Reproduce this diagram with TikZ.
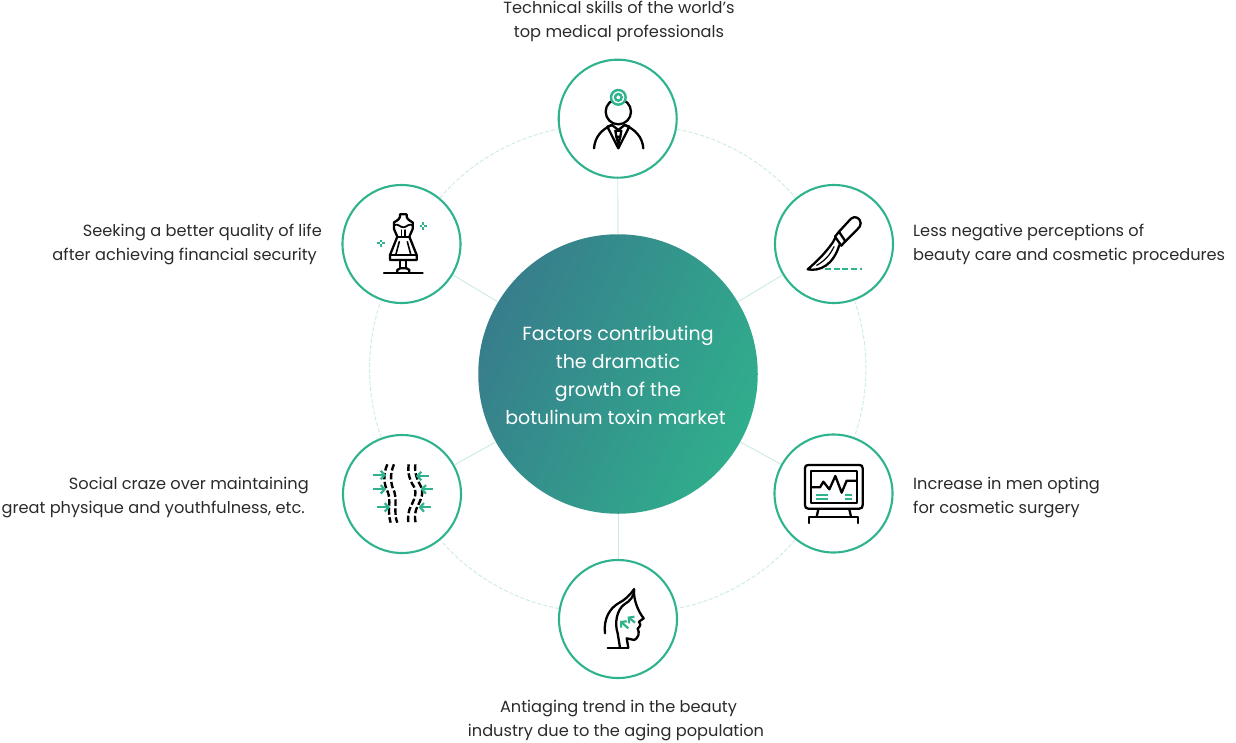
\documentclass[tikz,border=0pt]{standalone}
\usepackage{fontspec}
\setmainfont{Poppins}
\usetikzlibrary{arrows.meta}
\definecolor{grn}{HTML}{2FB38E}
\definecolor{lite}{HTML}{CBEBE1}
\definecolor{txt}{HTML}{2A2A2A}
\definecolor{hubA}{HTML}{377D8C}
\definecolor{hubB}{HTML}{30AE8C}
\tikzset{
  hubnode/.style={circle,minimum size=279.5pt,inner sep=0pt,shade,top color=hubA,bottom color=hubB,shading angle=65,text=white,align=center,font=\fontsize{19}{28}\selectfont},
  factor/.style={circle,minimum size=118pt,inner sep=0pt,draw=grn,line width=2.1pt,fill=white},
  spoke/.style={draw=lite,line width=0.9pt},
  arcline/.style={draw=lite,line width=0.9pt,dash pattern=on 4pt off 2pt,looseness=0.85},
  caption/.style={inner sep=0pt,text=txt,font=\fontsize{16.2}{24}\selectfont},
  ink/.style={line width=2.3pt,black,line join=round,line cap=round},
  mint/.style={line width=2.2pt,grn,line join=round},
  mintarrow/.style={line width=2.2pt,grn,-{Straight Barb[length=3.8pt,width=8.5pt]}},
  bodyline/.style={line width=2.4pt,black,dash pattern=on 6.5pt off 2.5pt},
}
\newcommand{\sparkleat}[2]{%
  \draw[grn,line width=1.9pt] (#1-11,#2)--(#1-3,#2) (#1+3,#2)--(#1+11,#2) (#1,#2-11)--(#1,#2-3) (#1,#2+3)--(#1,#2+11);}
\begin{document}
\begin{tikzpicture}[x=1pt,y=-1pt]
\useasboundingbox (0,0) rectangle (1236,742);
\node[hubnode] (hub) at (618,374) {\rule{0pt}{17pt}Factors contributing\\the dramatic\\growth of the\\botulinum toxin market\hspace*{5pt}};
\node[factor] (n1) at (617.7,118.7) {};
\node[factor] (n2) at (834,244) {};
\node[factor] (n3) at (833.5,493.5) {};
\node[factor] (n4) at (618,619) {};
\node[factor] (n5) at (402,494) {};
\node[factor] (n6) at (401.5,244) {};
\foreach \n in {1,...,6} \draw[spoke] (hub) -- (n\n);
\draw[arcline] (n1) to[bend left=20] (n2);
\draw[arcline] (n2) to[bend left=20] (n3);
\draw[arcline] (n3) to[bend left=20] (n4);
\draw[arcline] (n4) to[bend left=20] (n5);
\draw[arcline] (n5) to[bend left=20] (n6);
\draw[arcline] (n6) to[bend left=20] (n1);
% captions
\node[caption,align=center] (c1) at (619,21) {Technical skills of the world’s\\top medical professionals};
\node[caption,align=left,anchor=west] (c2) at (913,244) {Less negative perceptions of\\beauty care and cosmetic procedures};
\node[caption,align=left,anchor=west] (c3) at (913,497.5) {Increase in men opting\\for cosmetic surgery};
\node[caption,align=center] (c4) at (616,721) {\hspace*{5pt}Antiaging trend in the beauty\\industry due to the aging population};
\node[caption,align=right,anchor=east] (c5) at (309,497.5) {Social craze over maintaining\\great physique and youthfulness, etc.\hspace*{4pt}};
\node[caption,align=right,anchor=east] (c6) at (322,244) {Seeking a better quality of life\\after achieving financial security\hspace*{5pt}};
% doctor
\begin{scope}[shift={(550,80)},x=0.3333pt,y=-0.3333pt]
\draw[ink] (205,95) circle (38);
\draw[grn,line width=2.4pt,fill=white] (205,52) circle (22);
\draw[grn,line width=2.4pt] (205,52) circle (10);
\draw[ink] (132,205) .. controls (135,170) and (155,148) .. (186,135) (224,135) .. controls (255,148) and (277,170) .. (280,205);
\draw[ink] (172,140) -- (186,135) -- (205,150) -- (224,135) -- (238,140);
\draw[ink] (172,140) -- (205,205) -- (238,140);
\draw[ink] (196,152) -- (214,152) -- (211,170) -- (199,170) -- cycle;
\draw[ink] (199,170) -- (205,192) -- (211,170);
\end{scope}
% scalpel
\begin{scope}[shift={(770,190)},x=0.3333pt,y=-0.3333pt]
\draw[ink] (207,125) -- (243,86) .. controls (255,75) and (272,85) .. (272,100) .. controls (272,108) and (268,112) .. (262,118) -- (226,154);
\draw[ink] (207,125) -- (195,140) -- (214,167) -- (226,154) -- cycle;
\draw[ink] (195,145) -- (188,158) .. controls (165,190) and (140,215) .. (113,238) .. controls (150,245) and (190,225) .. (208,165);
\draw[ink,line width=1.2pt] (140,226) .. controls (165,212) and (180,195) .. (192,170);
\draw[mint,dash pattern=on 6pt off 2.7pt] (165,237) -- (277,237);
\end{scope}
% monitor
\begin{scope}[shift={(770,430)},x=0.3333pt,y=-0.3333pt]
\draw[ink] (105,115) .. controls (105,108) and (108,105) .. (115,105) -- (268,105) .. controls (275,105) and (278,108) .. (278,115) -- (278,225) .. controls (278,232) and (275,236) .. (268,236) -- (115,236) .. controls (108,236) and (105,232) .. (105,225) -- cycle;
\draw[ink] (123,123) rectangle (260,218);
\draw[ink] (123,172) -- (150,172) -- (160,155) -- (178,178) -- (196,138) -- (215,188) -- (230,152) -- (260,152);
\draw[mint] (138,195) -- (175,195) (138,207) -- (175,207) (225,195) -- (245,195) (225,207) -- (245,207);
\draw[ink] (145,238) -- (140,260) (238,238) -- (243,260);
\draw[ink] (118,279) -- (118,260) -- (265,260) -- (265,279);
\end{scope}
% face
\begin{scope}[shift={(555,555)},x=0.3333pt,y=-0.3333pt]
\draw[ink] (150,235) .. controls (145,190) and (165,160) .. (190,145) .. controls (210,135) and (225,120) .. (237,103);
\draw[ink] (237,103) .. controls (238,125) and (225,138) .. (208,148) .. controls (185,165) and (178,205) .. (188,235) -- (195,278);
\draw[ink] (237,103) .. controls (235,135) and (250,170) .. (266,190) -- (252,200) .. controls (258,205) and (258,212) .. (248,221) .. controls (255,232) and (250,250) .. (238,255) -- (215,250) -- (220,278);
\draw[ink] (158,278) -- (220,278);
\draw[mintarrow] (240,203) -- (218,185);
\draw[mintarrow] (220,220) -- (195,198);
\end{scope}
% body
\begin{scope}[shift={(340,430)},x=0.3333pt,y=-0.3333pt]
\draw[bodyline] (142,103) .. controls (130,130) and (130,160) .. (143,185) .. controls (155,215) and (140,240) .. (152,278);
\draw[bodyline] (162,103) .. controls (150,130) and (150,160) .. (163,185) .. controls (172,215) and (160,250) .. (172,278);
\draw[bodyline] (206,103) .. controls (203,130) and (208,150) .. (222,170) .. controls (235,195) and (215,220) .. (208,240) .. controls (204,255) and (204,265) .. (205,278);
\draw[bodyline] (226,103) .. controls (223,130) and (232,150) .. (243,170) .. controls (255,195) and (235,220) .. (228,240) .. controls (224,255) and (224,265) .. (227,278);
\draw[mintarrow] (100,135) -- (138,135);
\draw[mintarrow] (100,178) -- (138,178);
\draw[mintarrow] (112,232) -- (150,232);
\draw[mintarrow] (266,138) -- (228,138);
\draw[mintarrow] (278,178) -- (242,178);
\draw[mintarrow] (272,232) -- (236,232);
\end{scope}
% dress
\begin{scope}[shift={(340,180)},x=0.3333pt,y=-0.3333pt]
\draw[ink] (180,103) -- (200,103) (180,103) .. controls (182,115) and (175,120) .. (162,127) -- (162,147) -- (172,170) -- (150,225) -- (150,240) -- (230,240) -- (230,225) -- (208,170) -- (218,147) -- (218,127) .. controls (205,120) and (198,115) .. (200,103);
\draw[ink,line width=1.8pt] (163,135) .. controls (175,130) and (180,142) .. (190,142) .. controls (200,142) and (205,130) .. (217,135);
\draw[ink] (172,170) -- (208,170);
\draw[ink,line width=1.5pt] (185,150) -- (185,168) (195,150) -- (195,168);
\draw[ink,line width=1.6pt] (178,185) -- (168,222) (202,185) -- (212,222);
\draw[ink] (150,226) -- (230,226);
\draw[ink] (132,278) -- (248,278);
\draw[ink] (181,240) -- (181,265) (199,240) -- (199,265);
\draw[ink] (172,278) -- (172,270) -- (180,265) -- (200,265) -- (208,270) -- (208,278);
\sparkleat{250}{138}
\sparkleat{123}{190}
\end{scope}
\end{tikzpicture}
\end{document}
